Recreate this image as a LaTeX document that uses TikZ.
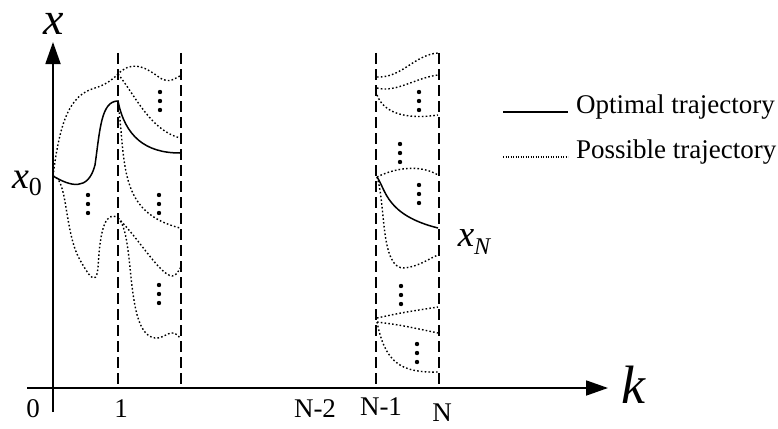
\documentclass[tikz,border=0pt]{standalone}
\usepackage{fontspec}
\setmainfont{Liberation Serif}
\usetikzlibrary{arrows.meta}
\begin{document}
\begin{tikzpicture}[x=1pt,y=-1pt,
  axis/.style={line width=1.8pt,-{Triangle[length=22pt,width=15pt]}},
  stagebar/.style={line width=1.8pt,dash pattern=on 11pt off 5pt},
  opt/.style={line width=1.5pt},
  poss/.style={line width=1.4pt,dash pattern=on 1.6pt off 2.2pt},
  lbl/.style={font=\fontsize{27}{30}\selectfont,inner sep=0pt},
  mlbl/.style={inner sep=0pt,font=\itshape},
  dotsty/.style={fill=black}]
\useasboundingbox (0,0) rectangle (778,428);
% axes
\coordinate (yb) at (53,412);
\coordinate (yt) at (53,42);
\coordinate (xl) at (27,388);
\coordinate (xr) at (608,388);
\draw[axis] (yb) -- (yt);
\draw[axis] (xl) -- (xr);
\node[mlbl] (xlab) at (54,24) {\fontsize{46}{48}\selectfont x};
\node[mlbl] (klab) at (633,385) {\fontsize{54}{58}\selectfont k};
% stage bars
\foreach \n/\xx in {a/118,b/181,c/376,d/439}{
  \coordinate (\n t) at (\xx,53);
  \coordinate (\n b) at (\xx,388);
  \draw[stagebar] (\n t) -- (\n b);
}
% tick labels
\node[lbl] (t0) at (33,409) {0};
\node[lbl] (t1) at (121,409) {1};
\node[lbl] (tn2) at (315,409) {N-2};
\node[lbl] (tn1) at (381,407) {N-1};
\node[lbl] (tn) at (442,413) {N};
% state labels
\node[mlbl] (x0lab) at (27,183) {\fontsize{38}{40}\selectfont x\raisebox{-7pt}{\upshape\fontsize{26}{28}\selectfont 0}};
\node[mlbl] (xNlab) at (474,242) {\fontsize{37}{40}\selectfont x\raisebox{-8pt}{\fontsize{24}{26}\selectfont N}};
% key points
\coordinate (X0) at (53,176);
\coordinate (A1) at (118,74);
\coordinate (S1) at (118,101);
\coordinate (B1) at (118,218);
\coordinate (R1) at (377,177);
\coordinate (R2) at (377,322);
% left stage: optimal
\draw[opt] (X0) .. controls (70,186) and (88,192) .. (95,165)
  .. controls (100,130) and (101,101) .. (S1)
  .. controls (125,136) and (145,153) .. (180,153);
% left stage: possible
\draw[poss] (X0) .. controls (60,120) and (70,95) .. (95,88)
  .. controls (105,85) and (112,80) .. (A1)
  .. controls (130,62) and (142,64) .. (160,78)
  .. controls (170,84) and (175,78) .. (180,76);
\draw[poss] (A1) .. controls (135,95) and (150,130) .. (180,138);
\draw[poss] (S1) .. controls (126,165) and (118,212) .. (180,228);
\draw[poss] (X0) .. controls (68,178) and (64,232) .. (80,260)
  .. controls (88,274) and (96,288) .. (98,268)
  .. controls (100,228) and (106,210) .. (B1);
\draw[poss] (B1) .. controls (140,240) and (160,275) .. (172,276)
  .. controls (176,276) and (178,272) .. (180,268);
\draw[poss] (B1) .. controls (136,235) and (124,334) .. (155,338)
  .. controls (166,339) and (171,326) .. (180,338);
% right stage: possible
\draw[poss] (377,77) .. controls (402,78) and (414,55) .. (438,53);
\draw[poss] (377,88) .. controls (396,93) and (415,78) .. (438,75);
\draw[poss] (377,95) .. controls (385,116) and (412,119) .. (438,115);
\draw[poss] (R1) .. controls (395,168) and (420,164) .. (438,175);
\draw[poss] (R1) .. controls (386,205) and (380,270) .. (405,268)
  .. controls (420,266) and (430,258) .. (438,255);
\draw[poss] (377,318) .. controls (400,313) .. (438,307);
\draw[poss] (R2) .. controls (400,325) .. (438,333);
\draw[poss] (R2) .. controls (385,362) and (400,373) .. (438,372);
% right stage: optimal
\draw[opt] (R1) .. controls (386,190) and (386,215) .. (438,228);
% ellipsis dots
\foreach \px/\py in {160/101,88/204,159/204,159/294,419/101,400/153,419/194,401/295,417/353}{
  \foreach \k in {-9,0,9}{
    \fill[dotsty] (\px,\py+\k) circle (2.2pt);
  }
}
% legend
\coordinate (l1a) at (503,112);
\coordinate (l1b) at (568,112);
\coordinate (l2a) at (503,157);
\coordinate (l2b) at (568,157);
\draw[opt] (l1a) -- (l1b);
\draw[poss,line width=1.2pt,dash pattern=on 1.2pt off 1.3pt] (l2a) -- (l2b);
\node[lbl,anchor=west] (leg1) at (576,107) {Optimal trajectory};
\node[lbl,anchor=west] (leg2) at (576,152) {Possible trajectory};
\end{tikzpicture}
\end{document}
